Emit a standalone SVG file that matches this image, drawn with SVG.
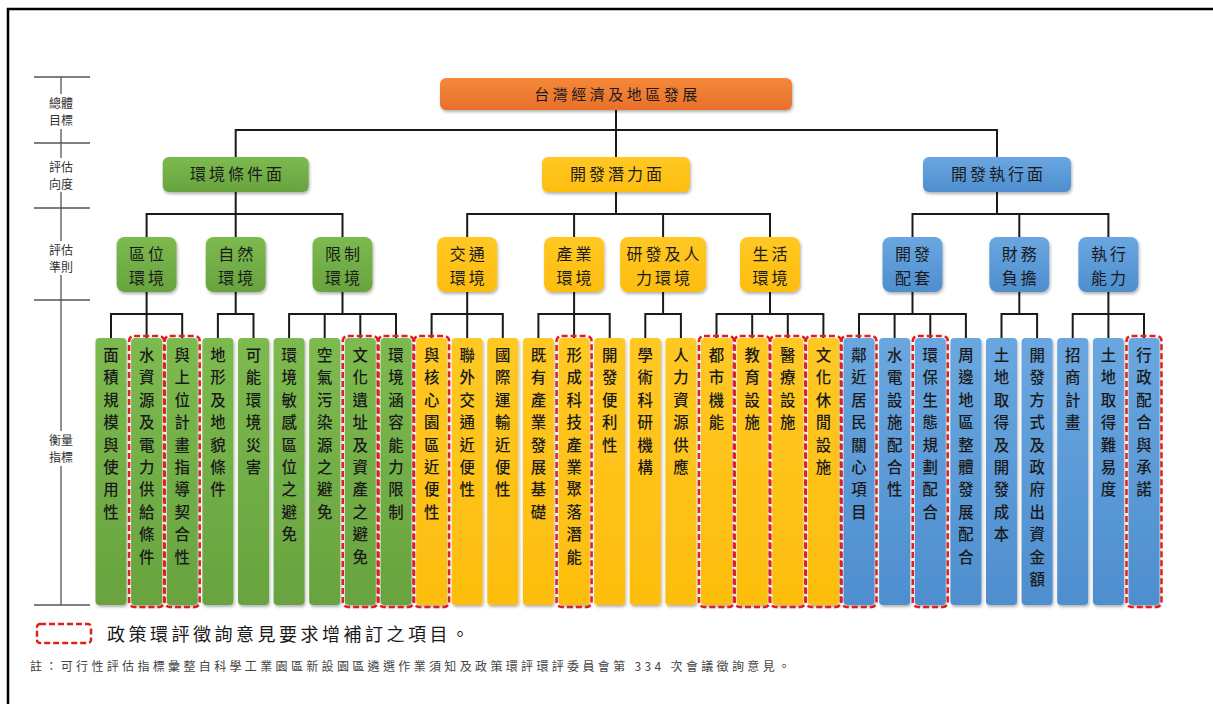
<svg xmlns="http://www.w3.org/2000/svg" width="1213" height="704" viewBox="0 0 1213 704">
<defs>
<linearGradient id="gG" x1="0" y1="0" x2="0" y2="1"><stop offset="0" stop-color="#7dba4f"/><stop offset="1" stop-color="#68a33f"/></linearGradient>
<linearGradient id="gY" x1="0" y1="0" x2="0" y2="1"><stop offset="0" stop-color="#ffc824"/><stop offset="1" stop-color="#fdbd0e"/></linearGradient>
<linearGradient id="gB" x1="0" y1="0" x2="0" y2="1"><stop offset="0" stop-color="#6aa7e0"/><stop offset="1" stop-color="#4e8ecf"/></linearGradient>
<linearGradient id="gO" x1="0" y1="0" x2="0" y2="1"><stop offset="0" stop-color="#f5883a"/><stop offset="1" stop-color="#e8702a"/></linearGradient>
<filter id="sh" x="-20%" y="-20%" width="140%" height="140%"><feDropShadow dx="1" dy="2" stdDeviation="1.5" flood-color="#000" flood-opacity="0.3"/></filter>
</defs>
<style>
.g{fill:url(#gG);filter:url(#sh)}
.y{fill:url(#gY);filter:url(#sh)}
.b{fill:url(#gB);filter:url(#sh)}
.o{fill:url(#gO);filter:url(#sh)}
.red{fill:none;stroke:#e0201e;stroke-width:2.5;stroke-dasharray:6 3}
.t{font-family:"Noto Sans CJK TC","Noto Sans CJK SC",sans-serif;fill:#1a1a1a;text-anchor:middle}
.lt{font-size:15.4px;font-weight:500}
.nt{font-size:16px;letter-spacing:3px}
.ax{font-family:"Noto Sans CJK TC",sans-serif;font-size:12px;fill:#333;text-anchor:middle}
.con{fill:none;stroke:#1a1a1a;stroke-width:2}
.axl{fill:none;stroke:#555;stroke-width:1.3}
</style>
<rect width="1213" height="704" fill="#fff"/>
<path d="M8 704 V9 H1213" fill="none" stroke="#000" stroke-width="2.5"/>

<g id="axis">
<path class="axl" d="M61 77 V94 M61 129 V158 M61 192 V241 M61 275 V431 M61 466 V605 M34 77 H90 M34 143 H90 M34 208 H90 M34 300 H90 M34 605 H90"/>
<text class="ax" x="61" y="107.5">總體</text><text class="ax" x="61" y="125">目標</text>
<text class="ax" x="61" y="171.5">評估</text><text class="ax" x="61" y="189">向度</text>
<text class="ax" x="61" y="254.5">評估</text><text class="ax" x="61" y="272">準則</text>
<text class="ax" x="61" y="444.5">衡量</text><text class="ax" x="61" y="462">指標</text>
</g>

<g id="connectors">
<path class="con" d="M616 110 V130 M235.7 157 V130 H997 V157 M616 130 V157"/>
<path class="con" d="M235.7 192 V237 M146.6 237 V214 H342.5 V237"/>
<path class="con" d="M616 192 V214 M467.2 237 V214 H770 V237 M574.1 214 V237 M663.1 214 V237"/>
<path class="con" d="M997 192 V214 M912.5 237 V214 H1108.4 V237 M1019.3 214 V237"/>
<path class="con" d="M146.6 292 V338 M111 338 V314 H182.2 V338"/>
<path class="con" d="M235.7 292 V314 M217.9 338 V314 H253.5 V338"/>
<path class="con" d="M342.5 292 V314 M289.1 338 V314 H396 V338 M324.7 314 V338 M360.3 314 V338"/>
<path class="con" d="M467.2 292 V338 M431.6 338 V314 H502.8 V338"/>
<path class="con" d="M574.1 292 V338 M538.4 338 V314 H609.7 V338"/>
<path class="con" d="M663.1 292 V314 M645.3 338 V314 H680.9 V338"/>
<path class="con" d="M770 292 V314 M716.5 338 V314 H823.4 V338 M752.2 314 V338 M787.8 314 V338"/>
<path class="con" d="M912.5 292 V314 M859 338 V314 H965.9 V338 M894.6 314 V338 M930.3 314 V338"/>
<path class="con" d="M1019.3 292 V314 M1001.5 338 V314 H1037.1 V338"/>
<path class="con" d="M1108.4 292 V338 M1072.7 338 V314 H1144 V338"/>
</g>

<g id="n-top"><rect class="o" x="440" y="78" width="352" height="32" rx="6"/><text class="t nt" x="617.5" y="100" style="font-size:15px;letter-spacing:3.5px">台灣經濟及地區發展</text></g>

<g id="n-env"><rect class="g" x="162.7" y="157" width="146" height="35" rx="6"/><text class="t nt" x="237.5" y="180">環境條件面</text></g>
<g id="n-pot"><rect class="y" x="542" y="157" width="148" height="35" rx="6"/><text class="t nt" x="617.5" y="180">開發潛力面</text></g>
<g id="n-exe"><rect class="b" x="923" y="157" width="148" height="35" rx="6"/><text class="t nt" x="998.5" y="180">開發執行面</text></g>

<g id="n-c1"><rect class="g" x="116.6" y="237" width="60" height="55" rx="8"/><text class="t nt"><tspan x="148.1" y="260">區位</tspan><tspan x="148.1" y="284">環境</tspan></text></g>
<g id="n-c2"><rect class="g" x="205.7" y="237" width="60" height="55" rx="8"/><text class="t nt"><tspan x="237.2" y="260">自然</tspan><tspan x="237.2" y="284">環境</tspan></text></g>
<g id="n-c3"><rect class="g" x="312.5" y="237" width="60" height="55" rx="8"/><text class="t nt"><tspan x="344" y="260">限制</tspan><tspan x="344" y="284">環境</tspan></text></g>
<g id="n-c4"><rect class="y" x="437.2" y="237" width="60" height="55" rx="8"/><text class="t nt"><tspan x="468.7" y="260">交通</tspan><tspan x="468.7" y="284">環境</tspan></text></g>
<g id="n-c5"><rect class="y" x="544.1" y="237" width="60" height="55" rx="8"/><text class="t nt"><tspan x="575.6" y="260">產業</tspan><tspan x="575.6" y="284">環境</tspan></text></g>
<g id="n-c6"><rect class="y" x="620.1" y="237" width="86" height="55" rx="8"/><text class="t nt"><tspan x="664.6" y="260">研發及人</tspan><tspan x="664.6" y="284">力環境</tspan></text></g>
<g id="n-c7"><rect class="y" x="740" y="237" width="60" height="55" rx="8"/><text class="t nt"><tspan x="771.5" y="260">生活</tspan><tspan x="771.5" y="284">環境</tspan></text></g>
<g id="n-c8"><rect class="b" x="882.5" y="237" width="60" height="55" rx="8"/><text class="t nt"><tspan x="914" y="260">開發</tspan><tspan x="914" y="284">配套</tspan></text></g>
<g id="n-c9"><rect class="b" x="989.3" y="237" width="60" height="55" rx="8"/><text class="t nt"><tspan x="1020.8" y="260">財務</tspan><tspan x="1020.8" y="284">負擔</tspan></text></g>
<g id="n-c10"><rect class="b" x="1078.4" y="237" width="60" height="55" rx="8"/><text class="t nt"><tspan x="1109.9" y="260">執行</tspan><tspan x="1109.9" y="284">能力</tspan></text></g>

<g id="l1"><rect class="g" x="95.5" y="338" width="31" height="267" rx="4"/><text class="t lt"><tspan x="111" y="361">面</tspan><tspan x="111" dy="22.4">積</tspan><tspan x="111" dy="22.4">規</tspan><tspan x="111" dy="22.4">模</tspan><tspan x="111" dy="22.4">與</tspan><tspan x="111" dy="22.4">使</tspan><tspan x="111" dy="22.4">用</tspan><tspan x="111" dy="22.4">性</tspan></text></g>
<g id="l2"><rect class="g" x="131.1" y="338" width="31" height="267" rx="4"/><rect class="red" x="129.1" y="336" width="35" height="271" rx="5"/><text class="t lt"><tspan x="146.6" y="361">水</tspan><tspan x="146.6" dy="22.4">資</tspan><tspan x="146.6" dy="22.4">源</tspan><tspan x="146.6" dy="22.4">及</tspan><tspan x="146.6" dy="22.4">電</tspan><tspan x="146.6" dy="22.4">力</tspan><tspan x="146.6" dy="22.4">供</tspan><tspan x="146.6" dy="22.4">給</tspan><tspan x="146.6" dy="22.4">條</tspan><tspan x="146.6" dy="22.4">件</tspan></text></g>
<g id="l3"><rect class="g" x="166.7" y="338" width="31" height="267" rx="4"/><rect class="red" x="164.7" y="336" width="35" height="271" rx="5"/><text class="t lt"><tspan x="182.2" y="361">與</tspan><tspan x="182.2" dy="22.4">上</tspan><tspan x="182.2" dy="22.4">位</tspan><tspan x="182.2" dy="22.4">計</tspan><tspan x="182.2" dy="22.4">畫</tspan><tspan x="182.2" dy="22.4">指</tspan><tspan x="182.2" dy="22.4">導</tspan><tspan x="182.2" dy="22.4">契</tspan><tspan x="182.2" dy="22.4">合</tspan><tspan x="182.2" dy="22.4">性</tspan></text></g>
<g id="l4"><rect class="g" x="202.4" y="338" width="31" height="267" rx="4"/><text class="t lt"><tspan x="217.9" y="361">地</tspan><tspan x="217.9" dy="22.4">形</tspan><tspan x="217.9" dy="22.4">及</tspan><tspan x="217.9" dy="22.4">地</tspan><tspan x="217.9" dy="22.4">貌</tspan><tspan x="217.9" dy="22.4">條</tspan><tspan x="217.9" dy="22.4">件</tspan></text></g>
<g id="l5"><rect class="g" x="238" y="338" width="31" height="267" rx="4"/><text class="t lt"><tspan x="253.5" y="361">可</tspan><tspan x="253.5" dy="22.4">能</tspan><tspan x="253.5" dy="22.4">環</tspan><tspan x="253.5" dy="22.4">境</tspan><tspan x="253.5" dy="22.4">災</tspan><tspan x="253.5" dy="22.4">害</tspan></text></g>
<g id="l6"><rect class="g" x="273.6" y="338" width="31" height="267" rx="4"/><text class="t lt"><tspan x="289.1" y="361">環</tspan><tspan x="289.1" dy="22.4">境</tspan><tspan x="289.1" dy="22.4">敏</tspan><tspan x="289.1" dy="22.4">感</tspan><tspan x="289.1" dy="22.4">區</tspan><tspan x="289.1" dy="22.4">位</tspan><tspan x="289.1" dy="22.4">之</tspan><tspan x="289.1" dy="22.4">避</tspan><tspan x="289.1" dy="22.4">免</tspan></text></g>
<g id="l7"><rect class="g" x="309.2" y="338" width="31" height="267" rx="4"/><text class="t lt"><tspan x="324.7" y="361">空</tspan><tspan x="324.7" dy="22.4">氣</tspan><tspan x="324.7" dy="22.4">污</tspan><tspan x="324.7" dy="22.4">染</tspan><tspan x="324.7" dy="22.4">源</tspan><tspan x="324.7" dy="22.4">之</tspan><tspan x="324.7" dy="22.4">避</tspan><tspan x="324.7" dy="22.4">免</tspan></text></g>
<g id="l8"><rect class="g" x="344.8" y="338" width="31" height="267" rx="4"/><rect class="red" x="342.8" y="336" width="35" height="271" rx="5"/><text class="t lt"><tspan x="360.3" y="361">文</tspan><tspan x="360.3" dy="22.4">化</tspan><tspan x="360.3" dy="22.4">遺</tspan><tspan x="360.3" dy="22.4">址</tspan><tspan x="360.3" dy="22.4">及</tspan><tspan x="360.3" dy="22.4">資</tspan><tspan x="360.3" dy="22.4">產</tspan><tspan x="360.3" dy="22.4">之</tspan><tspan x="360.3" dy="22.4">避</tspan><tspan x="360.3" dy="22.4">免</tspan></text></g>
<g id="l9"><rect class="g" x="380.5" y="338" width="31" height="267" rx="4"/><rect class="red" x="378.5" y="336" width="35" height="271" rx="5"/><text class="t lt"><tspan x="396" y="361">環</tspan><tspan x="396" dy="22.4">境</tspan><tspan x="396" dy="22.4">涵</tspan><tspan x="396" dy="22.4">容</tspan><tspan x="396" dy="22.4">能</tspan><tspan x="396" dy="22.4">力</tspan><tspan x="396" dy="22.4">限</tspan><tspan x="396" dy="22.4">制</tspan></text></g>
<g id="l10"><rect class="y" x="416.1" y="338" width="31" height="267" rx="4"/><rect class="red" x="414.1" y="336" width="35" height="271" rx="5"/><text class="t lt"><tspan x="431.6" y="361">與</tspan><tspan x="431.6" dy="22.4">核</tspan><tspan x="431.6" dy="22.4">心</tspan><tspan x="431.6" dy="22.4">園</tspan><tspan x="431.6" dy="22.4">區</tspan><tspan x="431.6" dy="22.4">近</tspan><tspan x="431.6" dy="22.4">便</tspan><tspan x="431.6" dy="22.4">性</tspan></text></g>
<g id="l11"><rect class="y" x="451.7" y="338" width="31" height="267" rx="4"/><text class="t lt"><tspan x="467.2" y="361">聯</tspan><tspan x="467.2" dy="22.4">外</tspan><tspan x="467.2" dy="22.4">交</tspan><tspan x="467.2" dy="22.4">通</tspan><tspan x="467.2" dy="22.4">近</tspan><tspan x="467.2" dy="22.4">便</tspan><tspan x="467.2" dy="22.4">性</tspan></text></g>
<g id="l12"><rect class="y" x="487.3" y="338" width="31" height="267" rx="4"/><text class="t lt"><tspan x="502.8" y="361">國</tspan><tspan x="502.8" dy="22.4">際</tspan><tspan x="502.8" dy="22.4">運</tspan><tspan x="502.8" dy="22.4">輸</tspan><tspan x="502.8" dy="22.4">近</tspan><tspan x="502.8" dy="22.4">便</tspan><tspan x="502.8" dy="22.4">性</tspan></text></g>
<g id="l13"><rect class="y" x="522.9" y="338" width="31" height="267" rx="4"/><text class="t lt"><tspan x="538.4" y="361">既</tspan><tspan x="538.4" dy="22.4">有</tspan><tspan x="538.4" dy="22.4">產</tspan><tspan x="538.4" dy="22.4">業</tspan><tspan x="538.4" dy="22.4">發</tspan><tspan x="538.4" dy="22.4">展</tspan><tspan x="538.4" dy="22.4">基</tspan><tspan x="538.4" dy="22.4">礎</tspan></text></g>
<g id="l14"><rect class="y" x="558.6" y="338" width="31" height="267" rx="4"/><rect class="red" x="556.6" y="336" width="35" height="271" rx="5"/><text class="t lt"><tspan x="574.1" y="361">形</tspan><tspan x="574.1" dy="22.4">成</tspan><tspan x="574.1" dy="22.4">科</tspan><tspan x="574.1" dy="22.4">技</tspan><tspan x="574.1" dy="22.4">產</tspan><tspan x="574.1" dy="22.4">業</tspan><tspan x="574.1" dy="22.4">聚</tspan><tspan x="574.1" dy="22.4">落</tspan><tspan x="574.1" dy="22.4">潛</tspan><tspan x="574.1" dy="22.4">能</tspan></text></g>
<g id="l15"><rect class="y" x="594.2" y="338" width="31" height="267" rx="4"/><text class="t lt"><tspan x="609.7" y="361">開</tspan><tspan x="609.7" dy="22.4">發</tspan><tspan x="609.7" dy="22.4">便</tspan><tspan x="609.7" dy="22.4">利</tspan><tspan x="609.7" dy="22.4">性</tspan></text></g>
<g id="l16"><rect class="y" x="629.8" y="338" width="31" height="267" rx="4"/><text class="t lt"><tspan x="645.3" y="361">學</tspan><tspan x="645.3" dy="22.4">術</tspan><tspan x="645.3" dy="22.4">科</tspan><tspan x="645.3" dy="22.4">研</tspan><tspan x="645.3" dy="22.4">機</tspan><tspan x="645.3" dy="22.4">構</tspan></text></g>
<g id="l17"><rect class="y" x="665.4" y="338" width="31" height="267" rx="4"/><text class="t lt"><tspan x="680.9" y="361">人</tspan><tspan x="680.9" dy="22.4">力</tspan><tspan x="680.9" dy="22.4">資</tspan><tspan x="680.9" dy="22.4">源</tspan><tspan x="680.9" dy="22.4">供</tspan><tspan x="680.9" dy="22.4">應</tspan></text></g>
<g id="l18"><rect class="y" x="701" y="338" width="31" height="267" rx="4"/><rect class="red" x="699" y="336" width="35" height="271" rx="5"/><text class="t lt"><tspan x="716.5" y="361">都</tspan><tspan x="716.5" dy="22.4">市</tspan><tspan x="716.5" dy="22.4">機</tspan><tspan x="716.5" dy="22.4">能</tspan></text></g>
<g id="l19"><rect class="y" x="736.7" y="338" width="31" height="267" rx="4"/><rect class="red" x="734.7" y="336" width="35" height="271" rx="5"/><text class="t lt"><tspan x="752.2" y="361">教</tspan><tspan x="752.2" dy="22.4">育</tspan><tspan x="752.2" dy="22.4">設</tspan><tspan x="752.2" dy="22.4">施</tspan></text></g>
<g id="l20"><rect class="y" x="772.3" y="338" width="31" height="267" rx="4"/><rect class="red" x="770.3" y="336" width="35" height="271" rx="5"/><text class="t lt"><tspan x="787.8" y="361">醫</tspan><tspan x="787.8" dy="22.4">療</tspan><tspan x="787.8" dy="22.4">設</tspan><tspan x="787.8" dy="22.4">施</tspan></text></g>
<g id="l21"><rect class="y" x="807.9" y="338" width="31" height="267" rx="4"/><rect class="red" x="805.9" y="336" width="35" height="271" rx="5"/><text class="t lt"><tspan x="823.4" y="361">文</tspan><tspan x="823.4" dy="22.4">化</tspan><tspan x="823.4" dy="22.4">休</tspan><tspan x="823.4" dy="22.4">閒</tspan><tspan x="823.4" dy="22.4">設</tspan><tspan x="823.4" dy="22.4">施</tspan></text></g>
<g id="l22"><rect class="b" x="843.5" y="338" width="31" height="267" rx="4"/><rect class="red" x="841.5" y="336" width="35" height="271" rx="5"/><text class="t lt"><tspan x="859" y="361">鄰</tspan><tspan x="859" dy="22.4">近</tspan><tspan x="859" dy="22.4">居</tspan><tspan x="859" dy="22.4">民</tspan><tspan x="859" dy="22.4">關</tspan><tspan x="859" dy="22.4">心</tspan><tspan x="859" dy="22.4">項</tspan><tspan x="859" dy="22.4">目</tspan></text></g>
<g id="l23"><rect class="b" x="879.1" y="338" width="31" height="267" rx="4"/><text class="t lt"><tspan x="894.6" y="361">水</tspan><tspan x="894.6" dy="22.4">電</tspan><tspan x="894.6" dy="22.4">設</tspan><tspan x="894.6" dy="22.4">施</tspan><tspan x="894.6" dy="22.4">配</tspan><tspan x="894.6" dy="22.4">合</tspan><tspan x="894.6" dy="22.4">性</tspan></text></g>
<g id="l24"><rect class="b" x="914.8" y="338" width="31" height="267" rx="4"/><rect class="red" x="912.8" y="336" width="35" height="271" rx="5"/><text class="t lt"><tspan x="930.3" y="361">環</tspan><tspan x="930.3" dy="22.4">保</tspan><tspan x="930.3" dy="22.4">生</tspan><tspan x="930.3" dy="22.4">態</tspan><tspan x="930.3" dy="22.4">規</tspan><tspan x="930.3" dy="22.4">劃</tspan><tspan x="930.3" dy="22.4">配</tspan><tspan x="930.3" dy="22.4">合</tspan></text></g>
<g id="l25"><rect class="b" x="950.4" y="338" width="31" height="267" rx="4"/><text class="t lt"><tspan x="965.9" y="361">周</tspan><tspan x="965.9" dy="22.4">邊</tspan><tspan x="965.9" dy="22.4">地</tspan><tspan x="965.9" dy="22.4">區</tspan><tspan x="965.9" dy="22.4">整</tspan><tspan x="965.9" dy="22.4">體</tspan><tspan x="965.9" dy="22.4">發</tspan><tspan x="965.9" dy="22.4">展</tspan><tspan x="965.9" dy="22.4">配</tspan><tspan x="965.9" dy="22.4">合</tspan></text></g>
<g id="l26"><rect class="b" x="986" y="338" width="31" height="267" rx="4"/><text class="t lt"><tspan x="1001.5" y="361">土</tspan><tspan x="1001.5" dy="22.4">地</tspan><tspan x="1001.5" dy="22.4">取</tspan><tspan x="1001.5" dy="22.4">得</tspan><tspan x="1001.5" dy="22.4">及</tspan><tspan x="1001.5" dy="22.4">開</tspan><tspan x="1001.5" dy="22.4">發</tspan><tspan x="1001.5" dy="22.4">成</tspan><tspan x="1001.5" dy="22.4">本</tspan></text></g>
<g id="l27"><rect class="b" x="1021.6" y="338" width="31" height="267" rx="4"/><text class="t lt"><tspan x="1037.1" y="361">開</tspan><tspan x="1037.1" dy="22.4">發</tspan><tspan x="1037.1" dy="22.4">方</tspan><tspan x="1037.1" dy="22.4">式</tspan><tspan x="1037.1" dy="22.4">及</tspan><tspan x="1037.1" dy="22.4">政</tspan><tspan x="1037.1" dy="22.4">府</tspan><tspan x="1037.1" dy="22.4">出</tspan><tspan x="1037.1" dy="22.4">資</tspan><tspan x="1037.1" dy="22.4">金</tspan><tspan x="1037.1" dy="22.4">額</tspan></text></g>
<g id="l28"><rect class="b" x="1057.2" y="338" width="31" height="267" rx="4"/><text class="t lt"><tspan x="1072.7" y="361">招</tspan><tspan x="1072.7" dy="22.4">商</tspan><tspan x="1072.7" dy="22.4">計</tspan><tspan x="1072.7" dy="22.4">畫</tspan></text></g>
<g id="l29"><rect class="b" x="1092.9" y="338" width="31" height="267" rx="4"/><text class="t lt"><tspan x="1108.4" y="361">土</tspan><tspan x="1108.4" dy="22.4">地</tspan><tspan x="1108.4" dy="22.4">取</tspan><tspan x="1108.4" dy="22.4">得</tspan><tspan x="1108.4" dy="22.4">難</tspan><tspan x="1108.4" dy="22.4">易</tspan><tspan x="1108.4" dy="22.4">度</tspan></text></g>
<g id="l30"><rect class="b" x="1128.5" y="338" width="31" height="267" rx="4"/><rect class="red" x="1126.5" y="336" width="35" height="271" rx="5"/><text class="t lt"><tspan x="1144" y="361">行</tspan><tspan x="1144" dy="22.4">政</tspan><tspan x="1144" dy="22.4">配</tspan><tspan x="1144" dy="22.4">合</tspan><tspan x="1144" dy="22.4">與</tspan><tspan x="1144" dy="22.4">承</tspan><tspan x="1144" dy="22.4">諾</tspan></text></g>

<g id="legend">
<rect class="red" x="37" y="624" width="54" height="19" rx="3"/>
<text x="107" y="641" style="font-family:'Noto Sans CJK TC',sans-serif;font-size:18px;fill:#1a1a1a" textLength="362" lengthAdjust="spacing">政策環評徵詢意見要求增補訂之項目。</text>
<text x="30" y="671" style="font-family:'Noto Sans CJK TC',sans-serif;font-size:12px;fill:#444" textLength="760" lengthAdjust="spacing">註：可行性評估指標彙整自科學工業園區新設園區遴選作業須知及政策環評環評委員會第 334 次會議徵詢意見。</text>
</g>
</svg>
